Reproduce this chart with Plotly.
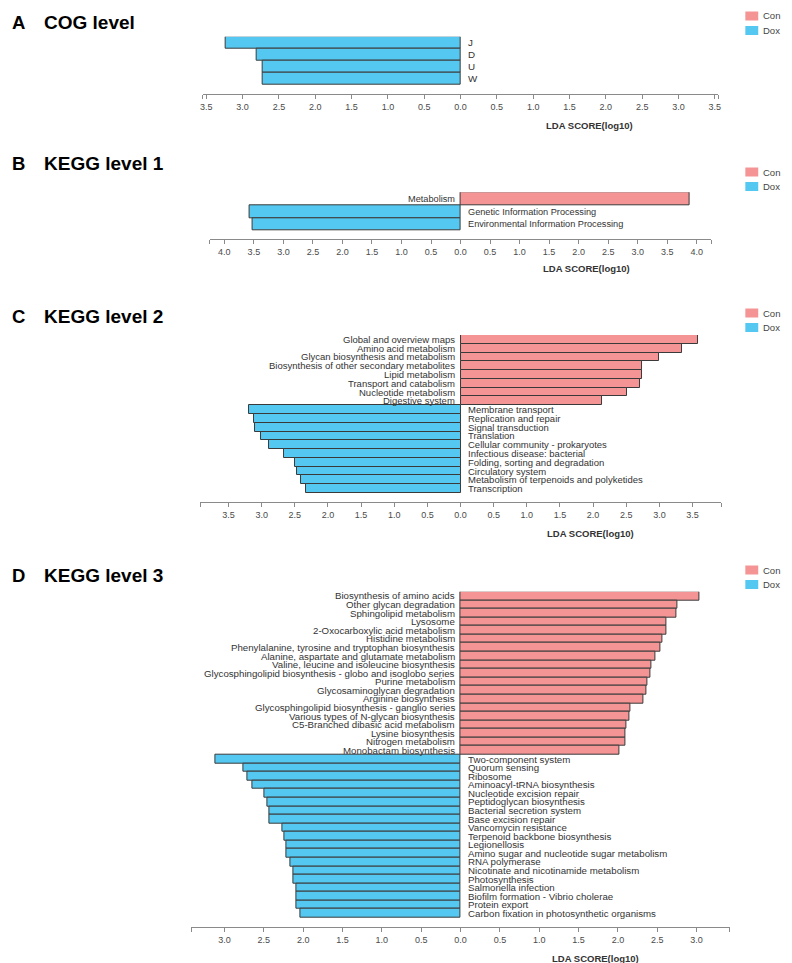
import plotly.graph_objects as go

# page body adds an 8px margin, so the figure is drawn 8px smaller and shifted
OFF = 8
W, H = 792 - OFF, 963 - OFF

# ---------------- data ----------------
A_con_cats = []
A_con_vals = []
A_dox_cats = ["J", "D", "U", "W"]
A_dox_vals = [3.24, 2.80, 2.73, 2.72]

B_con_cats = ["Metabolism"]
B_con_vals = [3.88]
B_dox_cats = ["Genetic Information Processing", "Environmental Information Processing"]
B_dox_vals = [3.58, 3.53]

C_con_cats = ["Global and overview maps", "Amino acid metabolism", "Glycan biosynthesis and metabolism",
              "Biosynthesis of other secondary metabolites", "Lipid metabolism", "Transport and catabolism",
              "Nucleotide metabolism", "Digestive system"]
C_con_vals = [3.59, 3.34, 2.99, 2.74, 2.74, 2.71, 2.51, 2.14]
C_dox_cats = ["Membrane transport", "Replication and repair", "Signal transduction", "Translation",
              "Cellular community - prokaryotes", "Infectious disease: bacterial",
              "Folding, sorting and degradation", "Circulatory system",
              "Metabolism of terpenoids and polyketides", "Transcription"]
C_dox_vals = [3.19, 3.11, 3.10, 3.01, 2.89, 2.67, 2.49, 2.46, 2.41, 2.33]

D_con_cats = ["Biosynthesis of amino acids", "Other glycan degradation", "Sphingolipid metabolism", "Lysosome",
              "2-Oxocarboxylic acid metabolism", "Histidine metabolism",
              "Phenylalanine, tyrosine and tryptophan biosynthesis", "Alanine, aspartate and glutamate metabolism",
              "Valine, leucine and isoleucine biosynthesis",
              "Glycosphingolipid biosynthesis - globo and isoglobo series", "Purine metabolism",
              "Glycosaminoglycan degradation", "Arginine biosynthesis",
              "Glycosphingolipid biosynthesis - ganglio series", "Various types of N-glycan biosynthesis",
              "C5-Branched dibasic acid metabolism", "Lysine biosynthesis", "Nitrogen metabolism",
              "Monobactam biosynthesis"]
D_con_vals = [3.03, 2.75, 2.74, 2.62, 2.62, 2.57, 2.54, 2.48, 2.43, 2.41, 2.37, 2.36, 2.33,
              2.16, 2.15, 2.11, 2.10, 2.09, 2.02]
D_dox_cats = ["Two-component system", "Quorum sensing", "Ribosome", "Aminoacyl-tRNA biosynthesis",
              "Nucleotide excision repair", "Peptidoglycan biosynthesis", "Bacterial secretion system",
              "Base excision repair", "Vancomycin resistance", "Terpenoid backbone biosynthesis",
              "Legionellosis", "Amino sugar and nucleotide sugar metabolism", "RNA polymerase",
              "Nicotinate and nicotinamide metabolism", "Photosynthesis", "Salmonella infection",
              "Biofilm formation - Vibrio cholerae", "Protein export",
              "Carbon fixation in photosynthetic organisms"]
D_dox_vals = [3.11, 2.76, 2.71, 2.65, 2.49, 2.46, 2.43, 2.43, 2.26, 2.24, 2.21, 2.21, 2.16,
              2.13, 2.12, 2.09, 2.09, 2.08, 2.04]

panel_letters = ["A", "B", "C", "D"]
panel_titles = ["COG level", "KEGG level 1", "KEGG level 2", "KEGG level 3"]
tick_max = [3.5, 4.0, 3.5, 3.0]
axis_title = "LDA SCORE(log10)"
legend_names = ["Con", "Dox"]

# ---------------- styling / layout ----------------
CON_COLOR = "#F49494"
DOX_COLOR = "#55C8F1"
EDGE = "#3a3a3a"
TXT = "#333333"
AX = "#8a8a8a"
FONT = "Arial, Liberation Sans, sans-serif"

ZERO_PX = 461.0
# per panel (page pixels): unit px, half range, bar top, bar height, axis line, axis title, title, legend, label size
P = [
    dict(unit=73.2, R=3.55, top=36.7, bh=11.9, axis=94.0, lda=125.0, title=23.0, leg=16.0, fs=9.8),
    dict(unit=59.5, R=4.25, top=192.3, bh=12.8, axis=239.0, lda=268.0, title=164.0, leg=172.0, fs=9.2),
    dict(unit=66.8, R=3.93, top=335.0, bh=8.78, axis=501.7, lda=533.0, title=316.0, leg=313.0, fs=9.5),
    dict(unit=79.3, R=3.42, top=591.7, bh=8.58, axis=927.0, lda=958.0, title=575.0, leg=570.0, fs=9.7),
]

data = [
    (A_con_cats, A_con_vals, A_dox_cats, A_dox_vals),
    (B_con_cats, B_con_vals, B_dox_cats, B_dox_vals),
    (C_con_cats, C_con_vals, C_dox_cats, C_dox_vals),
    (D_con_cats, D_con_vals, D_dox_cats, D_dox_vals),
]


def px_x(v):
    return (v - OFF) / W


def px_y(v):
    return 1 - (v - OFF) / H


fig = go.Figure()
annotations = []
shapes = []
layout_axes = {}

for i, (cc, cv, dc, dv) in enumerate(data):
    p = P[i]
    k = "" if i == 0 else str(i + 1)
    xa, ya = "x" + k, "y" + k
    cats = cc + dc

    if cc:
        fig.add_trace(go.Bar(y=cc, x=cv, base=0, orientation="h", width=1, xaxis=xa, yaxis=ya,
                             marker=dict(color=CON_COLOR, line=dict(color=EDGE, width=1)),
                             showlegend=False, name="Con"))
    if dc:
        fig.add_trace(go.Bar(y=dc, x=[-v for v in dv], base=0, orientation="h", width=1,
                             xaxis=xa, yaxis=ya,
                             marker=dict(color=DOX_COLOR, line=dict(color=EDGE, width=1)),
                             showlegend=False, name="Dox"))

    R = p["R"]
    x0 = ZERO_PX - R * p["unit"]
    x1 = ZERO_PX + R * p["unit"]
    tm = tick_max[i]
    steps = int(round(tm / 0.5))
    tvals = [-R] + [j * 0.5 for j in range(-steps, steps + 1)] + [R]
    ttext = [""] + ["%.1f" % abs(j * 0.5) for j in range(-steps, steps + 1)] + [""]

    ybot = -0.5 + (p["axis"] - p["top"]) / p["bh"]
    layout_axes["xaxis" + k] = dict(
        domain=[px_x(x0), px_x(x1)], anchor=ya, range=[-R, R],
        tickmode="array", tickvals=tvals, ticktext=ttext,
        showline=True, linecolor=AX, linewidth=1, ticks="outside", ticklen=4, tickcolor=AX,
        tickfont=dict(family=FONT, size=9, color="#4a4a4a"),
        showgrid=False, zeroline=False, fixedrange=True)
    layout_axes["yaxis" + k] = dict(
        domain=[px_y(p["axis"]), px_y(p["top"])], anchor=xa, type="category",
        categoryorder="array", categoryarray=cats, range=[ybot, -0.5],
        showticklabels=False, showline=False, showgrid=False, zeroline=False, ticks="",
        fixedrange=True)

    # category labels beside the zero line
    for c in cc:
        annotations.append(dict(x=0, y=c, xref=xa, yref=ya, text=c, showarrow=False,
                                xanchor="right", yanchor="middle", xshift=-4,
                                font=dict(family=FONT, size=p["fs"], color=TXT)))
    for c in dc:
        annotations.append(dict(x=0, y=c, xref=xa, yref=ya, text=c, showarrow=False,
                                xanchor="left", yanchor="middle", xshift=5,
                                font=dict(family=FONT, size=p["fs"], color=TXT)))

    # axis title
    annotations.append(dict(x=R / 2, y=px_y(p["lda"]), xref=xa, yref="paper", text="<b>%s</b>" % axis_title,
                            showarrow=False, xanchor="center", yanchor="middle",
                            font=dict(family=FONT, size=9.5, color="#333333")))
    # panel title
    annotations.append(dict(x=px_x(7), y=px_y(p["title"]), xref="paper", yref="paper",
                            text="<b>%s</b>" % panel_letters[i], showarrow=False,
                            xanchor="left", yanchor="middle",
                            font=dict(family=FONT, size=18.5, color="#000000")))
    annotations.append(dict(x=px_x(39), y=px_y(p["title"]), xref="paper", yref="paper",
                            text="<b>%s</b>" % panel_titles[i], showarrow=False,
                            xanchor="left", yanchor="middle",
                            font=dict(family=FONT, size=19, color="#000000")))
    # legend
    for j, (nm, col) in enumerate(zip(legend_names, [CON_COLOR, DOX_COLOR])):
        yc = p["leg"] + j * 14.5
        shapes.append(dict(type="rect", xref="paper", yref="paper",
                           x0=px_x(748), x1=px_x(761), y0=px_y(yc + 4.5), y1=px_y(yc - 4.5),
                           fillcolor=col, line=dict(width=0)))
        annotations.append(dict(x=px_x(764), y=px_y(yc), xref="paper", yref="paper", text=nm,
                                showarrow=False, xanchor="left", yanchor="middle",
                                font=dict(family=FONT, size=9.5, color="#444444")))

fig.update_layout(
    width=W, height=H, autosize=False,
    margin=dict(l=0, r=0, t=0, b=0),
    paper_bgcolor="white", plot_bgcolor="white",
    barmode="overlay", bargap=0,
    showlegend=False,
    annotations=annotations, shapes=shapes,
    **layout_axes,
)

fig.write_html("out.html")
